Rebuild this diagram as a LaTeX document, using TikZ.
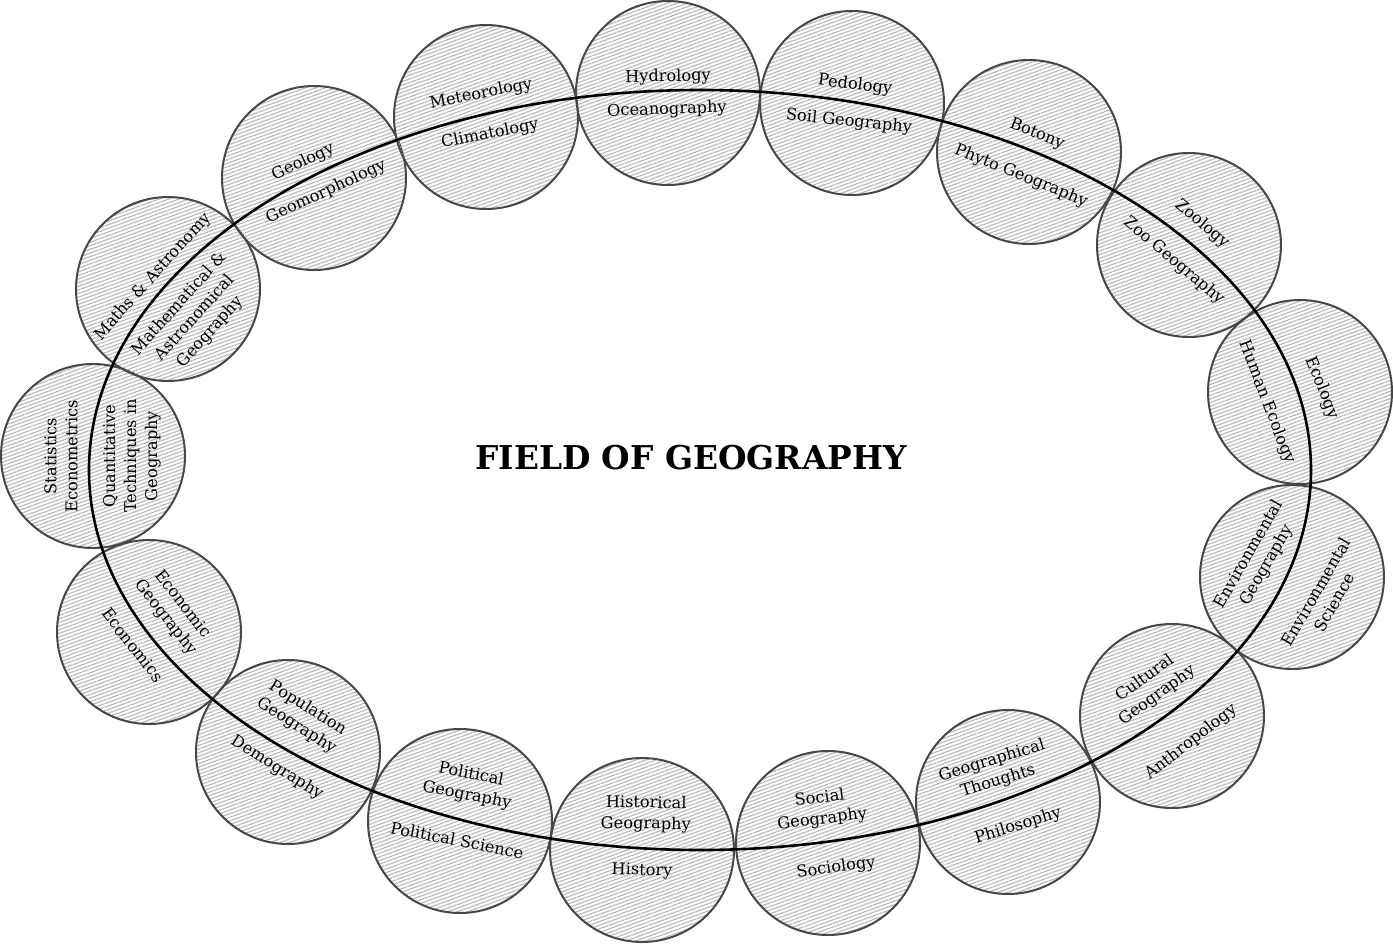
\documentclass[tikz,border=0pt]{standalone}
\usepackage{fontspec}
\setmainfont{DejaVu Serif}
\usetikzlibrary{patterns.meta}

\tikzset{
  fieldcircle/.style={circle, draw=black!72, line width=2pt, minimum size=184pt, inner sep=0pt,
    pattern={Lines[angle=20, distance=3.4pt, line width=1.2pt]}, pattern color=black!27},
  fieldlabel/.style={align=center, font=\fontsize{16.2}{21}\selectfont, text=black, inner sep=0pt},
  fieldtitle/.style={font=\fontsize{32.8}{38}\selectfont\bfseries, inner sep=0pt},
  fieldring/.style={draw=black, line width=2.6pt}
}

\begin{document}
\begin{tikzpicture}[x=1pt, y=-1pt]
   \useasboundingbox (0,0) rectangle (1393,948);

   \foreach \x/\y/\t in {668/93/hyd, 852/103/ped, 1029/152/bot, 1189/245/zoo, 1300/392/eco,
       1292/577/env, 1172/716/cul, 1008/802/tho, 828/843/soc, 642/850/his, 460/821/pol,
       288/752/pop, 149/632/ecn, 93/456/sta, 168/289/mat, 314/178/geo, 486/117/met}
     \node [fieldcircle] (c\t) at (\x,\y) {};

   \draw [fieldring] (700,470) ellipse [x radius=611, y radius=380];

   \node [fieldtitle] (title) at (691,458) {FIELD OF GEOGRAPHY};

   \foreach [count=\i] \x/\y/\a/\t in {
       668/77/1/Hydrology, 667/110/2/Oceanography,
       855/85/-7/Pedology, 849/122/-6/Soil Geography,
       1037/134/-22/Botony, 1021/176/-22/Phyto Geography,
       1202/224/-40/Zoology, 1174/261/-40/Zoo Geography,
       1322/388/-68/Ecology, 1267/402/-69/Human Ecology,
       1325/597/60/Environmental\\Science, 1258/560/60/Environmental\\Geography,
       1191/742/38/Anthropology, 1151/687/36/Cultural\\Geography,
       1018/826/17/Philosophy, 995/771/17/Geographical\\Thoughts,
       836/868/8/Sociology, 821/809/7/Social\\Geography,
       642/871/-2/History, 646/814/-1/Historical\\Geography,
       457/840/-11/Political Science, 469/785/-11/Political\\Geography,
       277/768/-32/Demography, 302/717/-32/Population\\Geography,
       133/645/-52/Economics, 174/611/-52/Economic\\Geography,
       132/456/90/Quantitative\\Techniques in\\Geography, 61/456/90/Statistics\\Econometrics,
       153/277/48/Maths \& Astronomy, 195/318/48/Mathematical \&\\Astronomical\\Geography,
       303/162/25/Geology, 326/192/25/Geomorphology,
       481/94/11/Meteorology, 490/134/11/Climatology}
     \node [fieldlabel, rotate=\a] (l\i) at (\x,\y) {\t};
\end{tikzpicture}
\end{document}
